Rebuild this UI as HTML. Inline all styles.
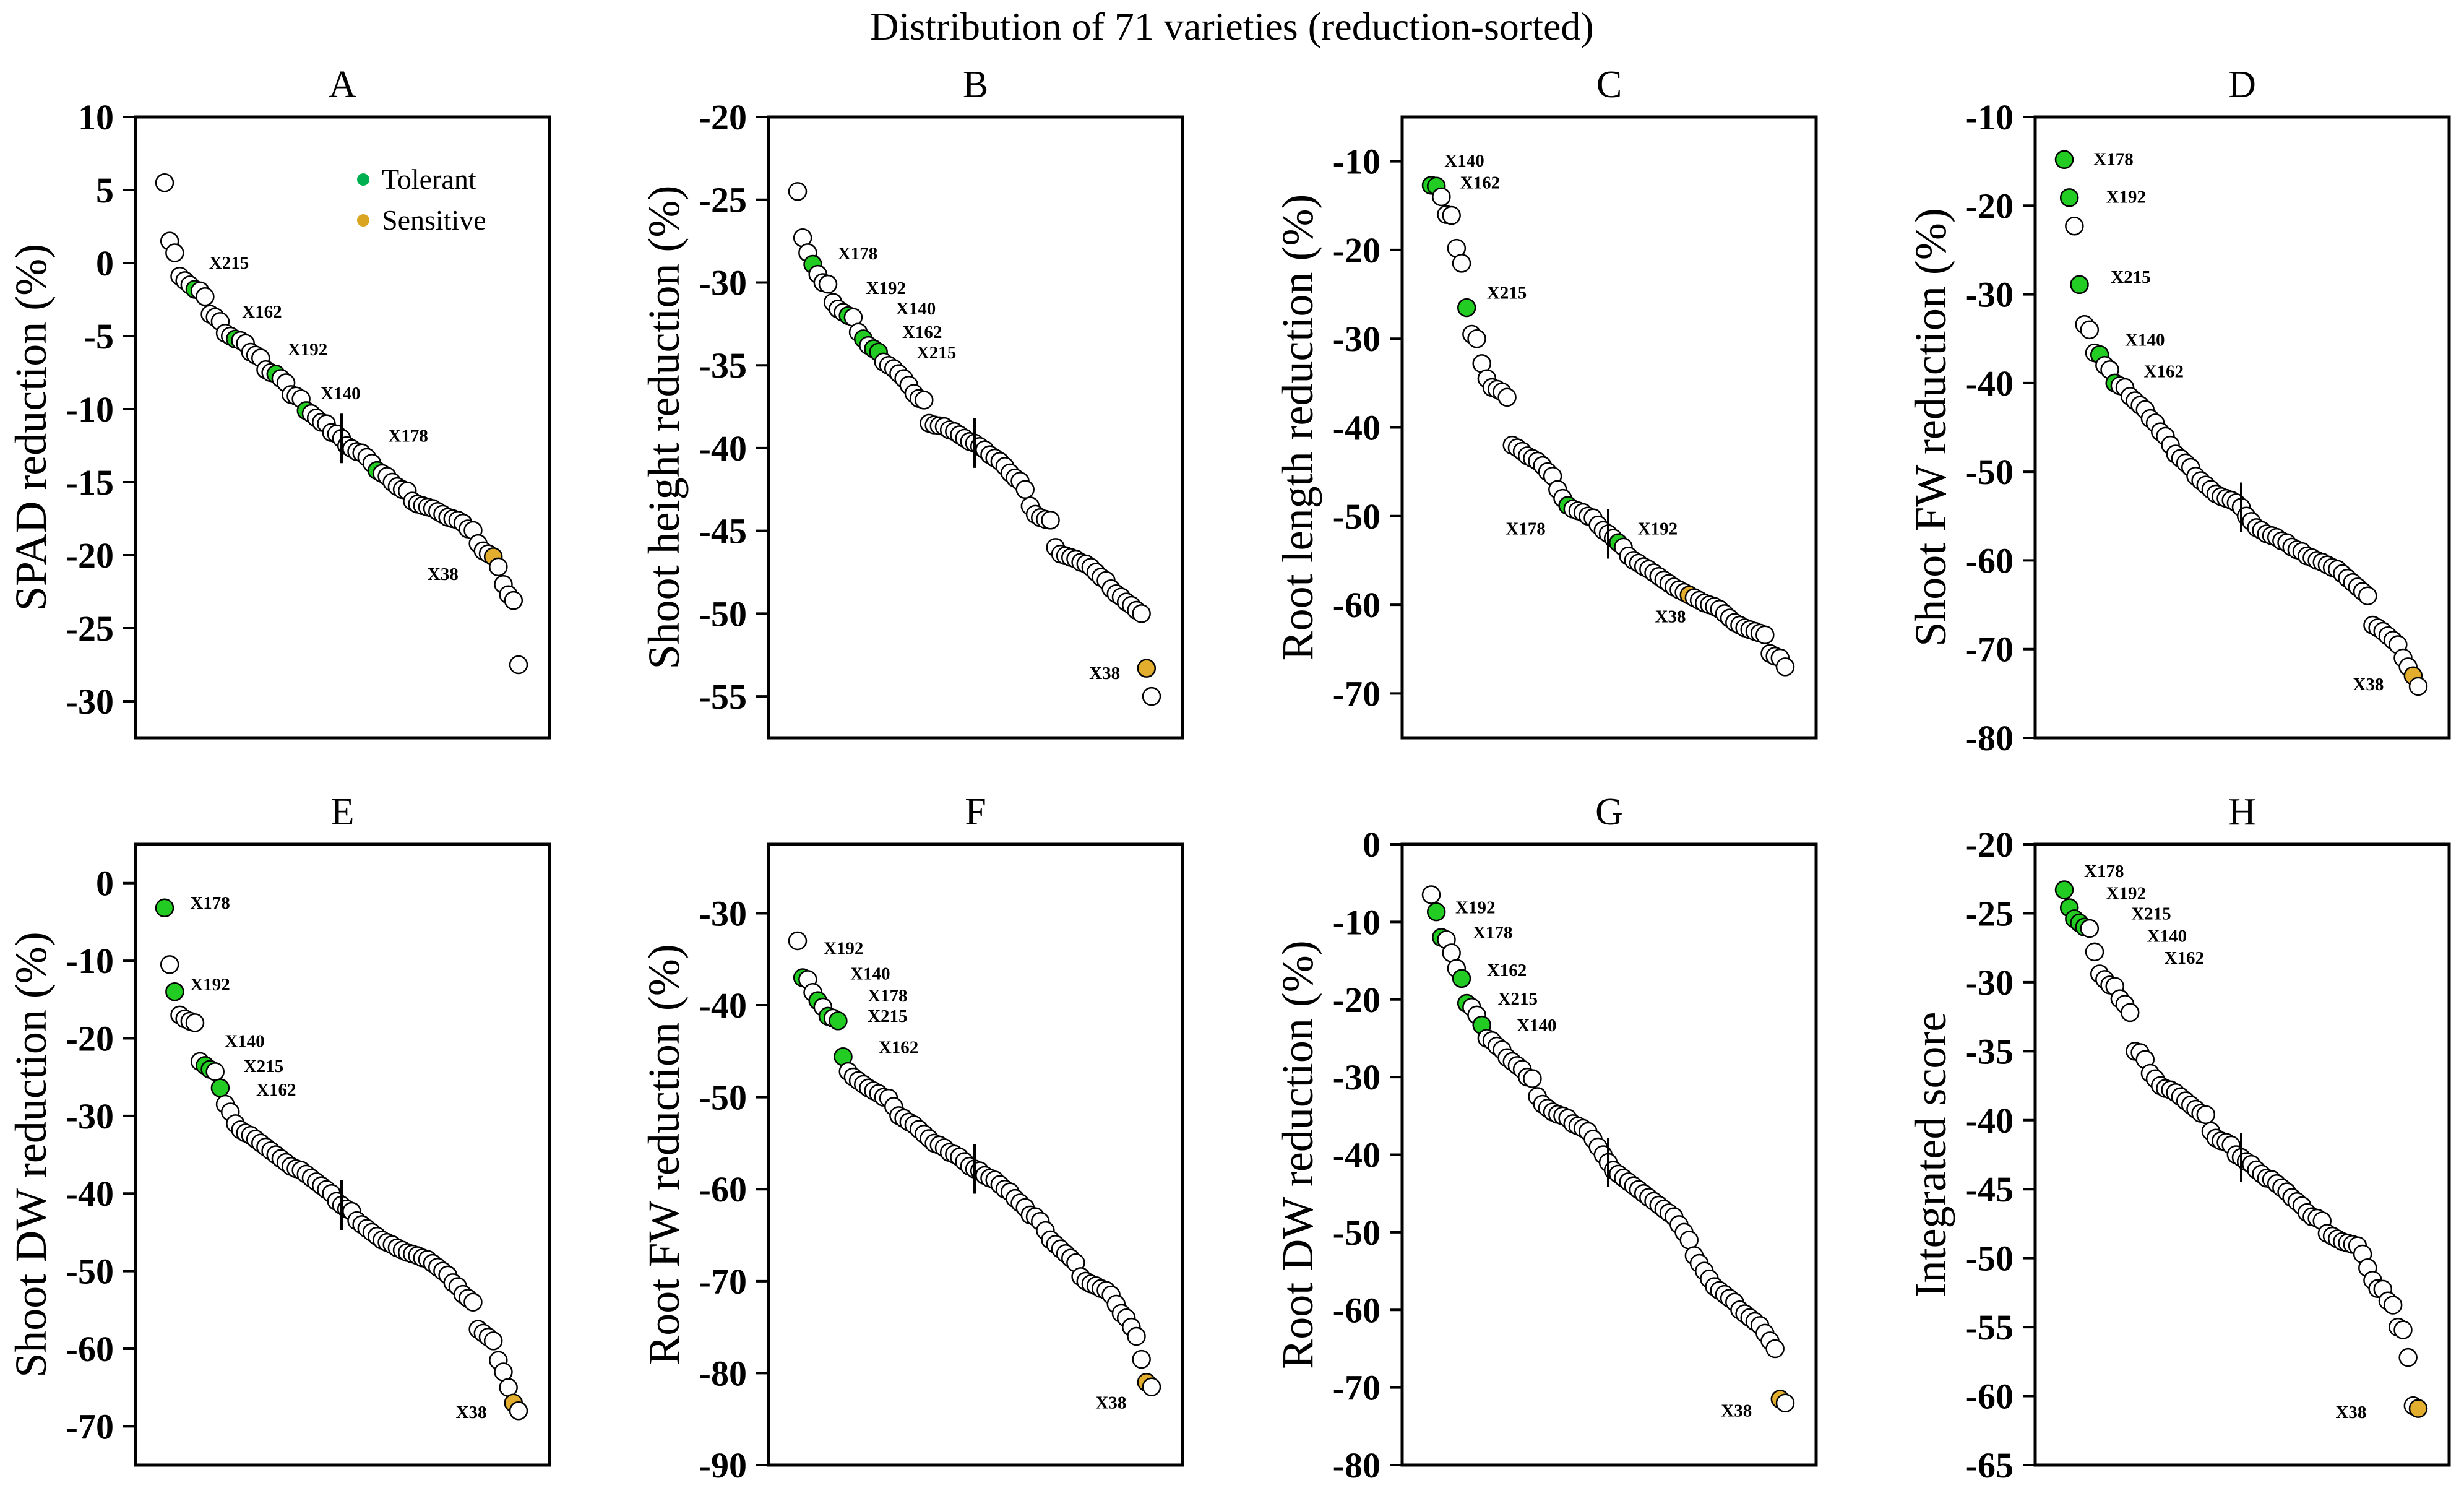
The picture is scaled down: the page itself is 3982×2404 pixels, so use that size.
<!DOCTYPE html>
<html><head><meta charset="utf-8"><style>
html,body{margin:0;padding:0;background:#fff}
svg{display:block}
text{font-family:"Liberation Serif",serif}
</style></head><body>
<svg id="fig" width="3982" height="2404" viewBox="0 0 3982 2404" xmlns="http://www.w3.org/2000/svg">
<text x="1991" y="64" font-size="64" text-anchor="middle">Distribution  of 71 varieties  (reduction-sorted)</text>
</svg>
<script>
const panelNames=['A','B','C','D','E','F','G','H'];
const yTitles=['SPAD reduction  (%)','Shoot height  reduction  (%)','Root length  reduction  (%)','Shoot FW reduction  (%)','Shoot DW reduction  (%)','Root FW reduction  (%)','Root DW reduction  (%)','Integrated  score'];
const yMax=[10,-20,-5,-10,5,-22.5,0,-20];
const yMin=[-32.5,-57.5,-75,-80,-75,-90,-80,-65];
const yTicksA=[10,5,0,-5,-10,-15,-20,-25,-30];
const yTicksB=[-20,-25,-30,-35,-40,-45,-50,-55];
const yTicksC=[-10,-20,-30,-40,-50,-60,-70];
const yTicksD=[-10,-20,-30,-40,-50,-60,-70,-80];
const yTicksE=[0,-10,-20,-30,-40,-50,-60,-70];
const yTicksF=[-30,-40,-50,-60,-70,-80,-90];
const yTicksG=[0,-10,-20,-30,-40,-50,-60,-70,-80];
const yTicksH=[-20,-25,-30,-35,-40,-45,-50,-55,-60,-65];
const valsA=[5.5,1.5,0.7,-0.9,-1.2,-1.5,-1.8,-1.9,-2.3,-3.5,-3.7,-4.0,-4.8,-5.0,-5.2,-5.3,-5.5,-6.1,-6.3,-6.5,-7.3,-7.5,-7.6,-7.9,-8.2,-9.0,-9.1,-9.3,-10.1,-10.3,-10.6,-10.9,-11.0,-11.6,-11.7,-12.0,-12.5,-12.7,-12.9,-13.0,-13.3,-13.7,-14.2,-14.4,-14.6,-15.0,-15.3,-15.5,-15.6,-16.3,-16.5,-16.6,-16.7,-16.8,-17.0,-17.2,-17.4,-17.5,-17.6,-17.8,-18.2,-18.3,-19.2,-19.7,-19.9,-20.1,-20.8,-22.0,-22.7,-23.1,-27.5];
const valsB=[-24.5,-27.3,-28.2,-28.9,-29.5,-30.0,-30.1,-31.2,-31.6,-31.8,-32.0,-32.1,-33.0,-33.4,-33.8,-34.0,-34.2,-34.8,-35.0,-35.2,-35.5,-35.8,-36.2,-36.7,-37.0,-37.1,-38.5,-38.6,-38.65,-38.7,-38.9,-39.0,-39.2,-39.4,-39.6,-39.7,-39.9,-40.1,-40.4,-40.6,-40.8,-41.1,-41.5,-41.8,-42.0,-42.5,-43.5,-44.0,-44.2,-44.3,-44.35,-46.0,-46.4,-46.5,-46.6,-46.7,-46.9,-47.0,-47.2,-47.5,-47.8,-48.0,-48.5,-48.8,-49.0,-49.3,-49.5,-49.8,-50.0,-53.3,-55.0];
const valsC=[-12.7,-12.8,-14,-16,-16.1,-19.8,-21.5,-26.5,-29.5,-30,-32.8,-34.5,-35.5,-35.7,-36,-36.6,-42,-42.3,-42.7,-43.2,-43.5,-43.8,-44.3,-45,-45.5,-47,-48,-48.8,-49.2,-49.4,-49.6,-50,-50.2,-51,-51.6,-52,-52.5,-53,-53.5,-54.5,-55,-55.3,-55.7,-56,-56.4,-56.8,-57.2,-57.6,-58,-58.3,-58.6,-58.9,-59.2,-59.5,-59.8,-60,-60.2,-60.5,-61,-61.5,-62,-62.3,-62.6,-62.8,-63,-63.2,-63.4,-65.5,-65.8,-66,-67];
const valsD=[-14.8,-19.1,-22.3,-28.9,-33.4,-34,-36.6,-36.8,-38,-38.5,-40,-40.3,-40.5,-41.5,-42,-42.5,-43,-44,-44.5,-45.5,-46,-47,-48,-48.5,-49,-49.5,-50.5,-51,-51.5,-52,-52.5,-52.8,-53,-53.2,-53.5,-54,-55,-55.6,-56.3,-56.6,-57,-57.2,-57.4,-57.8,-58,-58.5,-58.8,-59,-59.5,-59.7,-60,-60.2,-60.5,-60.8,-61,-61.5,-62,-62.5,-63,-63.5,-64,-67.3,-67.6,-68,-68.5,-69,-69.5,-71,-72,-73,-74.2];
const valsE=[-3.2,-10.5,-14,-17,-17.5,-17.8,-18,-23,-23.5,-24,-24.3,-26.4,-28.5,-29.5,-31,-31.8,-32.2,-32.5,-33,-33.5,-34,-34.5,-35,-35.5,-36,-36.5,-36.8,-37,-37.5,-38,-38.5,-39,-39.5,-40,-41,-41.5,-42,-42.3,-43.5,-44,-44.5,-45,-45.5,-46,-46.3,-46.6,-47,-47.3,-47.6,-47.8,-48,-48.3,-48.5,-49,-49.5,-50,-50.5,-51.5,-52,-53,-53.5,-54,-57.5,-58,-58.5,-59,-61.5,-63,-65,-67,-68];
const valsF=[-33,-37,-37.2,-38.6,-39.5,-40.2,-41.2,-41.4,-41.7,-45.6,-47.2,-47.8,-48.2,-48.6,-49,-49.3,-49.6,-50,-50.1,-51,-52,-52.3,-52.7,-53,-53.5,-54,-54.5,-55,-55.2,-55.5,-56,-56.2,-56.5,-57,-57.5,-57.8,-58,-58.5,-58.8,-59,-59.5,-60,-60.3,-61,-61.5,-62,-62.8,-63,-63.5,-64.5,-65.5,-66,-66.5,-67,-67.5,-68,-69.5,-70,-70.3,-70.5,-70.8,-71,-71.5,-72.5,-73.5,-74,-75,-76,-78.5,-81,-81.5];
const valsG=[-6.5,-8.7,-12,-12.3,-14,-16,-17.3,-20.5,-21,-22,-23.3,-25,-25.3,-26,-26.5,-27.5,-28,-28.5,-29,-30,-30.2,-32.5,-33.5,-34,-34.5,-34.8,-35,-35.3,-36,-36.3,-36.6,-37,-38,-39,-40,-41,-42,-42.5,-43,-43.5,-44,-44.5,-45,-45.5,-46,-46.5,-47,-47.5,-48,-49,-50,-51,-53,-54,-55,-56,-57,-57.5,-58,-58.5,-59,-60,-60.5,-61,-61.5,-62,-63,-64,-65,-71.5,-72];
const valsH=[-23.3,-24.6,-25.4,-25.7,-26,-26.1,-27.8,-29.4,-29.8,-30.2,-30.3,-31.2,-31.6,-32.2,-35,-35.1,-35.6,-36.6,-37,-37.5,-37.7,-37.8,-38,-38.3,-38.6,-38.9,-39.2,-39.5,-39.6,-40.8,-41.3,-41.5,-41.6,-41.8,-42.5,-42.7,-43,-43.2,-43.6,-43.9,-44.2,-44.3,-44.6,-44.9,-45.2,-45.6,-45.9,-46.2,-46.7,-47,-47.1,-47.3,-48.2,-48.4,-48.6,-48.8,-48.9,-49,-49.1,-49.7,-50.7,-51.6,-52.2,-52.25,-53.1,-53.4,-55,-55.2,-57.2,-60.7,-60.9];
const tolA=[-1.8,-5.2,-7.6,-10.1,-14.2], sensA=[-20.1];
const tolB=[-28.9,-32.0,-33.4,-34.0,-34.2], sensB=[-53.3];
const tolC=[-12.7,-12.8,-26.5,-48.8,-53], sensC=[-58.9];
const tolD=[-14.8,-19.1,-28.9,-36.8,-40], sensD=[-73];
const tolE=[-3.2,-14,-23.5,-24,-26.4], sensE=[-67];
const tolF=[-37,-39.5,-41.2,-41.7,-45.6], sensF=[-81];
const tolG=[-8.7,-12,-17.3,-20.5,-23.3], sensG=[-71.5];
const tolH=[-23.3,-24.6,-25.4,-25.7,-26], sensH=[-60.9];
const ticks=[yTicksA,yTicksB,yTicksC,yTicksD,yTicksE,yTicksF,yTicksG,yTicksH];
const vals=[valsA,valsB,valsC,valsD,valsE,valsF,valsG,valsH];
const tols=[tolA,tolB,tolC,tolD,tolE,tolF,tolG,tolH];
const sens=[sensA,sensB,sensC,sensD,sensE,sensF,sensG,sensH];
// annotation text positions (page px / 2.54)
const labels=[
[['X215',133,167],['X162',154,198],['X192',183,222],['X140',204,250],['X178',247,277],['X38',272,365]],
[['X178',533,161],['X192',551,183],['X140',570,196],['X162',574,211],['X215',583,224],['X38',693,428]],
[['X140',919,102],['X162',929,116],['X215',946,186],['X178',958,336],['X192',1042,336],['X38',1053,392]],
[['X178',1332,101],['X192',1340,125],['X215',1343,176],['X140',1352,216],['X162',1364,236],['X38',1497,435]],
[['X178',121,574],['X192',121,626],['X140',143,662],['X215',155,678],['X162',163,693],['X38',290,898]],
[['X192',524,603],['X140',541,619],['X178',552,633],['X215',552,646],['X162',559,666],['X38',697,892]],
[['X192',926,577],['X178',937,593],['X162',946,617],['X215',953,635],['X140',965,652],['X38',1095,897]],
[['X178',1326,554],['X192',1340,568],['X215',1356,581],['X140',1366,595],['X162',1377,609],['X38',1486,898]]];
const NS='http://www.w3.org/2000/svg';
const svg=document.getElementById('fig');
function mk(tag,attrs,parent,txt){const e=document.createElementNS(NS,tag);for(const k in attrs)e.setAttribute(k,attrs[k]);if(txt!==undefined)e.textContent=txt;(parent||svg).appendChild(e);return e;}
const lefts=[219,1242,2266,3289], tops=[189,1364], W=669, H=1003;
for(let p=0;p<8;p++){
  const L=lefts[p%4], T=tops[Math.floor(p/4)];
  const g=mk('g',{});
  
  
  const y=v=>T+(yMax[p]-v)/(yMax[p]-yMin[p])*H;
  const n=vals[p].length;
  const x=i=>L+47+i*(572/(n-1));
  const t=mk('text',{x:L+W/2,y:T-32,'font-size':62,'text-anchor':'middle'},g,panelNames[p]);
  
  
  const yt=mk('text',{x:0,y:0,'font-size':72,'text-anchor':'middle',transform:`translate(${L-145},${T+H/2}) rotate(-90)`},g,yTitles[p]);
  
  
  ticks[p].forEach(v=>{
    const ln=mk('line',{x1:L-20,x2:L,y1:y(v),y2:y(v),stroke:'#000','stroke-width':4},g);
    
    
    const tl=mk('text',{x:L-35,y:y(v)+20,'font-size':58,'font-weight':'bold','text-anchor':'end'},g,String(v));
    
    
  });
  const fr=mk('rect',{x:L,y:T,width:W,height:H,fill:'none',stroke:'#000','stroke-width':5},g);
  
  
  vals[p].forEach((v,i)=>{
    let fill='#fff';
    if(tols[p].includes(v))fill='#22cc22';
    if(sens[p].includes(v))fill='#e3ad2e';
    const c=mk('circle',{cx:x(i),cy:y(v),r:14,fill:fill,stroke:'#000','stroke-width':2.5},g);
    
    
  });
  const mi=Math.floor(n/2);
  const md=mk('line',{x1:x(mi),x2:x(mi),y1:y(vals[p][mi])-40,y2:y(vals[p][mi])+40,stroke:'#000','stroke-width':4},g);
  
  
  labels[p].forEach(l=>{
    const lt=mk('text',{x:l[1]*2.54,y:l[2]*2.54+10,'font-size':29,'font-weight':'bold'},g,l[0]);
    
    
  });
}
// legend in panel A
const lg=mk('g',{});


const d1=mk('circle',{cx:587,cy:290,r:10,fill:'#00b050'},lg);


const t1=mk('text',{x:617,y:305,'font-size':46},lg,'Tolerant');


const d2=mk('circle',{cx:587,cy:356,r:10,fill:'#daa520'},lg);


const t2=mk('text',{x:617,y:371,'font-size':46},lg,'Sensitive');


</script>
</body></html>
